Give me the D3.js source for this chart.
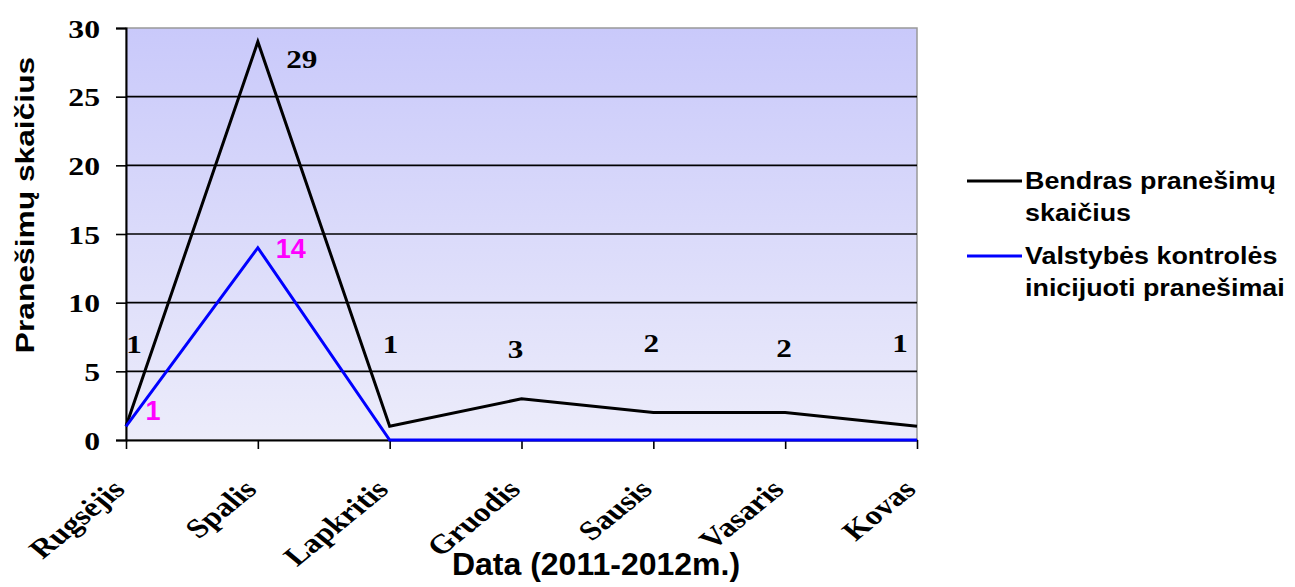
<!DOCTYPE html>
<html lang="lt">
<head>
<meta charset="UTF-8">
<title>Pranešimų skaičius</title>
<script src="https://d3js.org/d3.v7.min.js"></script>
<style>
    body { margin: 0; background: #fff; overflow: hidden; }
    .tick-y { font-family: 'Liberation Serif', serif; font-weight: bold; font-size: 26px; }
    .tick-x { font-family: 'Liberation Serif', serif; font-weight: bold; font-size: 27px; }
    .axis-title { font-family: 'Liberation Sans', Arial, sans-serif; font-weight: bold; font-size: 32px; }
    .legend-text { font-family: 'Liberation Sans', Arial, sans-serif; font-weight: bold; font-size: 24px; }
    .lbl-total { font-family: 'Liberation Serif', serif; font-weight: bold; font-size: 26px; fill: #000; }
    .lbl-state { font-family: 'Liberation Sans', Arial, sans-serif; font-weight: bold; font-size: 27px; fill: #ff00ff; }
</style>
</head>
<body>
<svg id="chart" width="1295" height="587"></svg>
<script>
// duomenys
const months = ["Rugsėjis", "Spalis", "Lapkritis", "Gruodis", "Sausis", "Vasaris", "Kovas"];
const totalReports = [1, 29, 1, 3, 2, 2, 1];
const stateReports = [1, 14, 0, 0, 0, 0, 0];
const yTicks = [0, 5, 10, 15, 20, 25, 30];
const seriesNames = [["Bendras pranešimų", "skaičius"], ["Valstybės kontrolės", "inicijuoti pranešimai"]];

// etikečių vietos: [poslinkis px, y ašies reikšmė bazinei linijai]
const totalLabelPos = [[8, 6.34], [44, 27.1], [1, 6.34], [-6, 5.97], [-2, 6.41], [-1, 6.05], [-17, 6.41]];
const stateLabelPos = [[27, 1.46], [33, 13.25]];

const svg = d3.select("#chart");
const m = { left: 126, right: 917, top: 28, bottom: 440 };

const x = d3.scalePoint().domain(months).range([m.left, m.right]).padding(0);
const y = d3.scaleLinear().domain([0, 30]).range([m.bottom, m.top]);

// fonas
const defs = svg.append("defs");
const grad = defs.append("linearGradient").attr("id", "bg").attr("x1", 0).attr("y1", 0).attr("x2", 0).attr("y2", 1);
grad.append("stop").attr("offset", "0%").attr("stop-color", "#c9c9fa");
grad.append("stop").attr("offset", "100%").attr("stop-color", "#ececfa");

svg.append("rect")
    .attr("x", m.left).attr("y", m.top)
    .attr("width", m.right - m.left).attr("height", m.bottom - m.top)
    .attr("fill", "url(#bg)")
    .attr("stroke", "#999").attr("stroke-width", 1.5);

// tinklelis
svg.selectAll(".grid").data(yTicks.filter(d => d > 0 && d < 30)).enter()
    .append("line")
    .attr("x1", m.left).attr("x2", m.right)
    .attr("y1", d => y(d)).attr("y2", d => y(d))
    .attr("stroke", "#000").attr("stroke-width", 1.6);

// y ašis
const yAxis = svg.append("g").attr("transform", `translate(${m.left},0)`)
    .call(d3.axisLeft(y).tickValues(yTicks).tickSize(10).tickPadding(0));
yAxis.select(".domain").attr("stroke", "#000").attr("stroke-width", 2);
yAxis.selectAll(".tick line").attr("stroke", "#000").attr("stroke-width", 1.6);
yAxis.selectAll(".tick text").attr("class", "tick-y").attr("fill", "#000")
    .attr("x", null).attr("dy", null)
    .attr("transform", "translate(-26,9) scale(1.22,1)");

// x ašis
const xAxis = svg.append("g").attr("transform", `translate(0,${m.bottom})`)
    .call(d3.axisBottom(x).tickSize(9).tickSizeOuter(0));
xAxis.select(".domain").attr("stroke", "#000").attr("stroke-width", 2);
xAxis.selectAll(".tick line").attr("stroke", "#000").attr("stroke-width", 1.6);
xAxis.selectAll(".tick text")
    .attr("class", "tick-x").attr("fill", "#000")
    .attr("text-anchor", "end")
    .attr("y", null).attr("dy", null)
    .attr("transform", "translate(0,51) scale(1.22,1) rotate(-45)");

// linijos
const line = d3.line().x((d, i) => x(months[i])).y(d => y(d));
svg.append("path").datum(totalReports).attr("d", line)
    .attr("fill", "none").attr("stroke", "#000").attr("stroke-width", 3);
svg.append("path").datum(stateReports).attr("d", line)
    .attr("fill", "none").attr("stroke", "#0000ff").attr("stroke-width", 3);

// reikšmių etiketės
svg.selectAll(".lbl-total").data(totalReports).enter()
    .append("text").attr("class", "lbl-total")
    .attr("text-anchor", "middle")
    .attr("transform", (d, i) =>
        `translate(${x(months[i]) + totalLabelPos[i][0]},${y(totalLabelPos[i][1])}) scale(1.2,1)`)
    .text(d => d);
svg.selectAll(".lbl-state").data(stateReports.slice(0, 2)).enter()
    .append("text").attr("class", "lbl-state")
    .attr("text-anchor", "middle")
    .attr("x", (d, i) => x(months[i]) + stateLabelPos[i][0])
    .attr("y", (d, i) => y(stateLabelPos[i][1]))
    .text(d => d);

// ašių pavadinimai
svg.append("text").attr("class", "axis-title")
    .attr("text-anchor", "middle")
    .attr("transform", "translate(34,205) rotate(-90) scale(1.27,1)")
    .style("font-size", "25px")
    .text("Pranešimų skaičius");
svg.append("text").attr("class", "axis-title")
    .attr("text-anchor", "middle")
    .attr("x", 596).attr("y", 575)
    .text("Data (2011-2012m.)");

// legenda
const legendColors = ["#000", "#0000ff"];
const lg = svg.append("g").attr("transform", "translate(967,181)");
seriesNames.forEach((lines, i) => {
    const g = lg.append("g").attr("transform", `translate(0,${i * 75})`);
    g.append("line").attr("x1", 0).attr("x2", 55).attr("y1", 0).attr("y2", 0)
        .attr("stroke", legendColors[i]).attr("stroke-width", 3);
    lines.forEach((t, j) => {
        g.append("text").attr("class", "legend-text")
            .attr("transform", `translate(58,${8 + j * 32}) scale(1.12,1)`)
            .text(t);
    });
});
</script>
</body>
</html>
